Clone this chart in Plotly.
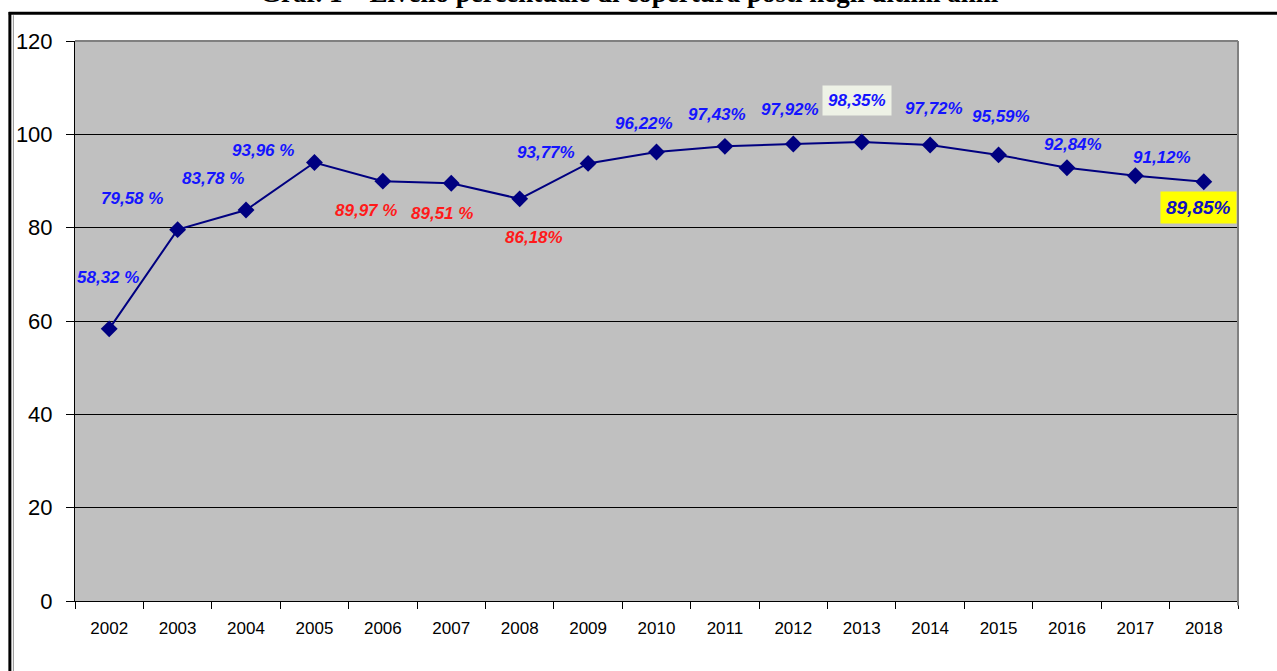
"""Livello percentuale di copertura posti negli ultimi anni."""

import plotly.graph_objects as go

years = [str(y) for y in range(2002, 2019)]
coverage = [58.32, 79.58, 83.78, 93.96, 89.97, 89.51, 86.18, 93.77, 96.22,
            97.43, 97.92, 98.35, 97.72, 95.59, 92.84, 91.12, 89.85]
labels = ["58,32 %", "79,58 %", "83,78 %", "93,96 %", "89,97 %", "89,51 %",
          "86,18%", "93,77%", "96,22%", "97,43%", "97,92%", "98,35%",
          "97,72%", "95,59%", "92,84%", "91,12%", "89,85%"]
label_colors = ["blue"] * 4 + ["red"] * 3 + ["blue"] * 10
y_ticks = [0, 20, 40, 60, 80, 100, 120]

# pixel offsets of each label from its point (dx, dy; dy positive = up)
offsets = [(-1, 51), (-46, 31), (-33, 32), (-51, 12), (-17, -29), (-9, -30),
           (14, -39), (-42, 11), (-13, 28), (-8, 32), (-3, 35), (-5, 42),
           (4, 36), (2, 38), (6, 23), (27, 18), (-5, -26)]

BLUE = "#1414ff"
RED = "#ff1a1a"
NAVY = "#000080"

fig = go.Figure()
fig.add_trace(go.Scatter(
    x=years, y=coverage, mode="lines+markers",
    line=dict(color=NAVY, width=2),
    marker=dict(symbol="diamond", size=13, color=NAVY),
    hoverinfo="skip", showlegend=False,
))

for i, (val, txt) in enumerate(zip(coverage, labels)):
    dx, dy = offsets[i]
    ann = dict(
        x=i, y=val, xref="x", yref="y", text=f"<b><i>{txt}</i></b>",
        showarrow=False, xshift=dx, yshift=dy,
        font=dict(family="Arial, Liberation Sans", size=17,
                  color=BLUE if label_colors[i] == "blue" else RED),
    )
    if i == 11:
        ann.update(bgcolor="#eef2e6", borderpad=5)
    if i == len(years) - 1:
        ann.update(bgcolor="#ffff00", borderpad=5,
                   font=dict(family="Arial, Liberation Sans", size=19,
                             color="#1010c0"))
    fig.add_annotation(**ann)

# title, cut off at the top of the page
fig.add_annotation(
    x=0.477, y=1.0555, xref="paper", yref="paper", yanchor="bottom",
    text="<b>Graf. 1 – Livello percentuale di copertura posti negli ultimi anni</b>",
    showarrow=False,
    font=dict(family="Liberation Serif, Times New Roman", size=27, color="black"),
)

# frame lines of the page and plot border
fig.add_shape(type="line", xref="paper", yref="paper", x0=-0.057, x1=1.04,
              y0=1.0495, y1=1.0495, line=dict(color="black", width=3))
fig.add_shape(type="line", xref="paper", yref="paper", x0=-0.056, x1=-0.056,
              y0=1.052, y1=-0.2, line=dict(color="black", width=3))
fig.add_shape(type="line", xref="paper", yref="paper", x0=-0.053, x1=-0.053,
              y0=1.046, y1=-0.2, line=dict(color="#909090", width=1))
fig.add_shape(type="line", xref="paper", yref="paper", x0=0, x1=1,
              y0=1, y1=1, line=dict(color="#808080", width=2), layer="above")
fig.add_shape(type="line", xref="paper", yref="paper", x0=1, x1=1,
              y0=-0.008, y1=1, line=dict(color="#808080", width=2), layer="above")

fig.update_layout(
    width=1277, height=671,
    margin=dict(l=75, r=39, t=41, b=70),
    paper_bgcolor="white", plot_bgcolor="#c0c0c0",
    font=dict(family="Arial, Liberation Sans", color="black"),
    xaxis=dict(
        type="category", range=[-0.5, 16.5], tickson="boundaries",
        ticks="outside", ticklen=7, tickcolor="black",
        showline=True, linecolor="black", linewidth=1,
        showgrid=False, ticklabelstandoff=12,
        tickfont=dict(family="Arial, Liberation Sans", size=17),
    ),
    yaxis=dict(
        range=[0, 120], tickvals=y_ticks, ticks="outside", ticklen=8,
        tickcolor="black", showline=True, linecolor="black", linewidth=1,
        showgrid=True, gridcolor="black", gridwidth=1, zeroline=False,
        tickfont=dict(size=22), ticklabelstandoff=9,
    ),
)

fig.write_html("out.html", config={"displayModeBar": False},
               post_script="document.body.style.margin='0';")
